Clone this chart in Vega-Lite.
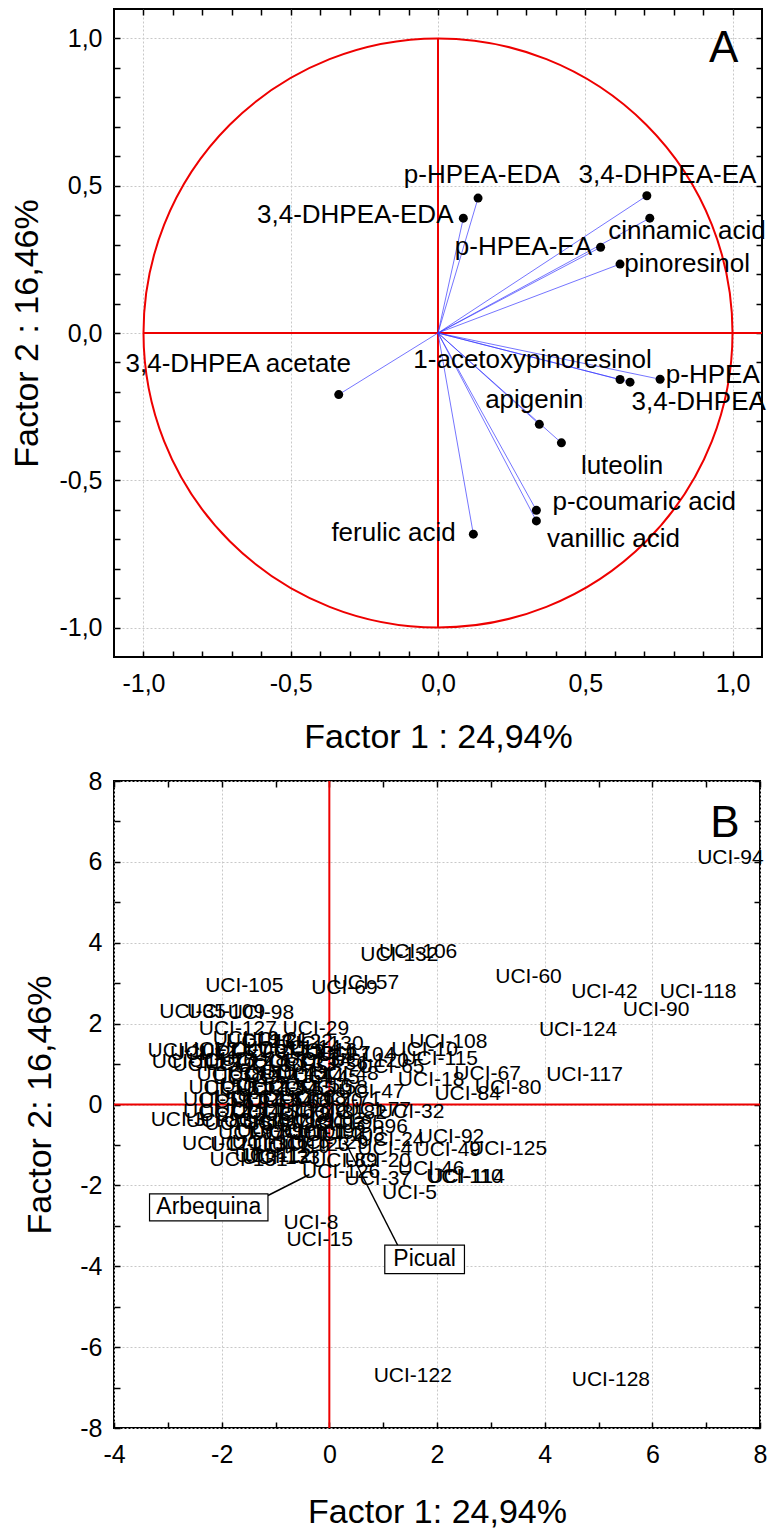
{
  "$schema": "https://vega.github.io/schema/vega-lite/v6.json",
  "padding": {"left": 9, "top": 7, "right": 0, "bottom": 0},
  "spacing": 13,
  "config": {
    "font": "Liberation Sans",
    "locale": {"number": {"decimal": ",", "thousands": ".", "grouping": [3], "currency": ["", ""], "minus": "-"}},
    "view": {"stroke": "black", "strokeWidth": 2},
    "axis": {"labelFont": "Liberation Sans", "labelFontSize": 25, "labelColor": "black", "titleFont": "Liberation Sans", "titleFontSize": 34, "titleFontWeight": "normal", "titleColor": "black", "domain": false, "tickColor": "black", "tickWidth": 1.5, "gridColor": "#c8c8c8", "gridDash": [2, 2], "gridWidth": 1, "labelFlush": false, "labelOverlap": false},
    "text": {"font": "Liberation Sans", "color": "black"}
  },
  "datasets": {
    "loadings": [
      {"name": "p-HPEA-EDA", "x": 0.136, "y": 0.458, "lx": 0.149, "ly": 0.537},
      {"name": "3,4-DHPEA-EA", "x": 0.709, "y": 0.466, "lx": 0.779, "ly": 0.537},
      {"name": "3,4-DHPEA-EDA", "x": 0.086, "y": 0.39, "lx": -0.281, "ly": 0.399},
      {"name": "p-HPEA-EA", "x": 0.552, "y": 0.291, "lx": 0.29, "ly": 0.291},
      {"name": "cinnamic acid", "x": 0.719, "y": 0.39, "lx": 0.845, "ly": 0.345},
      {"name": "pinoresinol", "x": 0.618, "y": 0.234, "lx": 0.846, "ly": 0.234},
      {"name": "3,4-DHPEA acetate", "x": -0.337, "y": -0.209, "lx": -0.678, "ly": -0.105},
      {"name": "1-acetoxypinoresinol", "x": 0.618, "y": -0.158, "lx": 0.321, "ly": -0.09},
      {"name": "3,4-DHPEA", "x": 0.652, "y": -0.167, "lx": 0.885, "ly": -0.233},
      {"name": "p-HPEA", "x": 0.754, "y": -0.157, "lx": 0.933, "ly": -0.141},
      {"name": "apigenin", "x": 0.344, "y": -0.31, "lx": 0.327, "ly": -0.227},
      {"name": "luteolin", "x": 0.419, "y": -0.373, "lx": 0.625, "ly": -0.453},
      {"name": "p-coumaric acid", "x": 0.334, "y": -0.602, "lx": 0.7, "ly": -0.575},
      {"name": "vanillic acid", "x": 0.334, "y": -0.638, "lx": 0.596, "ly": -0.699},
      {"name": "ferulic acid", "x": 0.12, "y": -0.683, "lx": -0.151, "ly": -0.68}
    ],
    "axesA": [{"x": -1, "x2": 1.1, "y": 0, "y2": 0}, {"x": 0, "x2": 0, "y": -1, "y2": 1}],
    "axesB": [{"x": 0, "x2": 0, "y": -8, "y2": 8}, {"x": -4, "x2": 8, "y": 0, "y2": 0}],
    "origin": [{"x": 0, "y": 0}],
    "panelA": [{"t": "A", "x": 0.97, "y": 0.963}],
    "panelB": [{"t": "B", "x": 7.35, "y": 6.94}],
    "scores": [
      {"id": "UCI-94", "x": 7.45, "y": 6.1},
      {"id": "UCI-132", "x": 1.3, "y": 3.7},
      {"id": "UCI-106", "x": 1.65, "y": 3.78},
      {"id": "UCI-60", "x": 3.7, "y": 3.15},
      {"id": "UCI-42", "x": 5.11, "y": 2.78},
      {"id": "UCI-118", "x": 6.85, "y": 2.78},
      {"id": "UCI-90", "x": 6.07, "y": 2.33},
      {"id": "UCI-124", "x": 4.62, "y": 1.83},
      {"id": "UCI-117", "x": 4.74, "y": 0.72},
      {"id": "UCI-105", "x": -1.58, "y": 2.92},
      {"id": "UCI-69", "x": 0.28, "y": 2.89},
      {"id": "UCI-57", "x": 0.68, "y": 3.0},
      {"id": "UCI-35", "x": -2.54, "y": 2.29},
      {"id": "UCI-109", "x": -1.92, "y": 2.29},
      {"id": "UCI-98", "x": -1.27, "y": 2.26},
      {"id": "UCI-127", "x": -1.7, "y": 1.87},
      {"id": "UCI-29", "x": -0.25, "y": 1.87},
      {"id": "UCI-130", "x": -0.09, "y": 1.49},
      {"id": "UCI-104", "x": 0.5, "y": 1.22},
      {"id": "UCI-10", "x": 1.77, "y": 1.34},
      {"id": "UCI-108", "x": 2.21, "y": 1.55},
      {"id": "UCI-115", "x": 2.05, "y": 1.13},
      {"id": "UCI-65", "x": 1.15, "y": 0.93},
      {"id": "UCI-18", "x": 1.89, "y": 0.6},
      {"id": "UCI-67", "x": 2.94, "y": 0.76},
      {"id": "UCI-80", "x": 3.32, "y": 0.42},
      {"id": "UCI-84", "x": 2.57, "y": 0.27},
      {"id": "UCI-47", "x": 0.78, "y": 0.31},
      {"id": "UCI-32", "x": 1.52, "y": -0.19},
      {"id": "UCI-77", "x": 0.9, "y": -0.14},
      {"id": "UCI-3", "x": -2.81, "y": -0.39},
      {"id": "UCI-96", "x": 0.84, "y": -0.56},
      {"id": "UCI-125", "x": 3.32, "y": -1.09},
      {"id": "UCI-92", "x": 2.26, "y": -0.8},
      {"id": "UCI-49", "x": 2.2, "y": -1.13},
      {"id": "UCI-4", "x": 1.03, "y": -1.09},
      {"id": "UCI-24", "x": 1.15, "y": -0.87},
      {"id": "UCI-110", "x": 2.51, "y": -1.79},
      {"id": "UCI-114", "x": 2.55, "y": -1.79},
      {"id": "UCI-46", "x": 1.89, "y": -1.59},
      {"id": "UCI-5", "x": 1.49, "y": -2.19},
      {"id": "UCI-37", "x": 0.9, "y": -1.83},
      {"id": "UCI-89", "x": 0.28, "y": -1.4},
      {"id": "UCI-20", "x": 0.9, "y": -1.4},
      {"id": "UCI-126", "x": 0.22, "y": -1.67},
      {"id": "UCI-12", "x": -0.96, "y": -1.3},
      {"id": "UCI-112", "x": -1.05, "y": -1.28},
      {"id": "UCI-121", "x": -2.01, "y": -0.97},
      {"id": "UCI-8", "x": -0.34, "y": -2.93},
      {"id": "UCI-15", "x": -0.18, "y": -3.36},
      {"id": "UCI-122", "x": 1.55, "y": -6.72},
      {"id": "UCI-128", "x": 5.23, "y": -6.82},
      {"id": "UCI-107", "x": -2.65, "y": 1.32},
      {"id": "UCI-1", "x": -2.45, "y": 1.25},
      {"id": "UCI-2", "x": -2.2, "y": 1.35},
      {"id": "UCI-6", "x": -1.9, "y": 1.28},
      {"id": "UCI-7", "x": -1.6, "y": 1.36},
      {"id": "UCI-9", "x": -1.3, "y": 1.3},
      {"id": "UCI-11", "x": -1.0, "y": 1.38},
      {"id": "UCI-13", "x": -0.7, "y": 1.3},
      {"id": "UCI-14", "x": -0.4, "y": 1.4},
      {"id": "UCI-16", "x": -0.1, "y": 1.32},
      {"id": "UCI-17", "x": 0.15, "y": 1.25},
      {"id": "UCI-19", "x": -1.55, "y": 1.62},
      {"id": "UCI-21", "x": -1.0, "y": 1.6},
      {"id": "UCI-22", "x": -0.55, "y": 1.55},
      {"id": "UCI-23", "x": -1.3, "y": 1.55},
      {"id": "UCI-111", "x": -2.6, "y": 1.05},
      {"id": "UCI-25", "x": -2.3, "y": 0.98},
      {"id": "UCI-26", "x": -2.0, "y": 1.08},
      {"id": "UCI-27", "x": -1.7, "y": 1.0},
      {"id": "UCI-28", "x": -1.4, "y": 1.1},
      {"id": "UCI-30", "x": -1.1, "y": 0.95},
      {"id": "UCI-31", "x": -0.8, "y": 1.05},
      {"id": "UCI-33", "x": -0.5, "y": 0.98},
      {"id": "UCI-34", "x": -0.2, "y": 1.1},
      {"id": "UCI-36", "x": 0.1, "y": 1.0},
      {"id": "UCI-120", "x": 0.75, "y": 1.08},
      {"id": "UCI-38", "x": -1.85, "y": 0.72},
      {"id": "UCI-39", "x": -1.55, "y": 0.65},
      {"id": "UCI-40", "x": -1.25, "y": 0.75},
      {"id": "UCI-41", "x": -0.95, "y": 0.68},
      {"id": "UCI-43", "x": -0.65, "y": 0.78},
      {"id": "UCI-44", "x": -0.35, "y": 0.7},
      {"id": "UCI-45", "x": -0.05, "y": 0.65},
      {"id": "UCI-48", "x": 0.3, "y": 0.75},
      {"id": "UCI-50", "x": -2.0, "y": 0.42},
      {"id": "UCI-51", "x": -1.7, "y": 0.38},
      {"id": "UCI-52", "x": -1.4, "y": 0.45},
      {"id": "UCI-53", "x": -1.1, "y": 0.35},
      {"id": "UCI-54", "x": -0.8, "y": 0.42},
      {"id": "UCI-55", "x": -0.5, "y": 0.38},
      {"id": "UCI-56", "x": -0.2, "y": 0.45},
      {"id": "UCI-58", "x": 0.1, "y": 0.4},
      {"id": "UCI-59", "x": -2.1, "y": 0.12},
      {"id": "UCI-61", "x": -1.8, "y": 0.05},
      {"id": "UCI-62", "x": -1.5, "y": 0.15},
      {"id": "UCI-63", "x": -1.2, "y": 0.08},
      {"id": "UCI-64", "x": -0.9, "y": 0.12},
      {"id": "UCI-66", "x": -0.6, "y": 0.05},
      {"id": "UCI-68", "x": -0.3, "y": 0.15},
      {"id": "UCI-70", "x": 0.0, "y": 0.08},
      {"id": "UCI-71", "x": 0.35, "y": 0.1},
      {"id": "UCI-72", "x": -2.1, "y": -0.18},
      {"id": "UCI-73", "x": -1.8, "y": -0.25},
      {"id": "UCI-74", "x": -1.5, "y": -0.15},
      {"id": "UCI-75", "x": -1.2, "y": -0.22},
      {"id": "UCI-76", "x": -0.9, "y": -0.18},
      {"id": "UCI-78", "x": -0.6, "y": -0.25},
      {"id": "UCI-79", "x": -0.3, "y": -0.15},
      {"id": "UCI-81", "x": 0.05, "y": -0.2},
      {"id": "UCI-82", "x": 0.45, "y": -0.22},
      {"id": "UCI-83", "x": -2.05, "y": -0.42},
      {"id": "UCI-85", "x": -1.7, "y": -0.48},
      {"id": "UCI-86", "x": -1.35, "y": -0.4},
      {"id": "UCI-87", "x": -1.0, "y": -0.45},
      {"id": "UCI-88", "x": -0.65, "y": -0.5},
      {"id": "UCI-91", "x": -0.3, "y": -0.42},
      {"id": "UCI-93", "x": 0.05, "y": -0.48},
      {"id": "UCI-95", "x": 0.4, "y": -0.45},
      {"id": "UCI-97", "x": -1.45, "y": -0.7},
      {"id": "UCI-99", "x": -1.1, "y": -0.65},
      {"id": "UCI-100", "x": -0.75, "y": -0.72},
      {"id": "UCI-101", "x": -0.4, "y": -0.68},
      {"id": "UCI-102", "x": -0.05, "y": -0.7},
      {"id": "UCI-103", "x": 0.3, "y": -0.75},
      {"id": "UCI-113", "x": -1.5, "y": -1.0},
      {"id": "UCI-116", "x": -1.1, "y": -0.95},
      {"id": "UCI-119", "x": -0.7, "y": -1.05},
      {"id": "UCI-123", "x": -0.35, "y": -1.0},
      {"id": "UCI-129", "x": 0.0, "y": -0.95},
      {"id": "UCI-131", "x": -1.5, "y": -1.37},
      {"id": "UCI-133", "x": -0.9, "y": -1.32}
    ],
    "cultivars": [
      {"name": "Arbequina", "x1": -3.34, "x2": -1.14, "y1": -2.21, "y2": -2.88, "lx": -2.24, "ly": -2.545, "px1": -1.14, "py1": -2.25, "px2": -0.37, "py2": -1.73},
      {"name": "Picual", "x1": 1.03, "x2": 2.51, "y1": -3.48, "y2": -4.18, "lx": 1.77, "ly": -3.83, "px1": 1.27, "py1": -3.48, "px2": 0.28, "py2": -0.89}
    ]
  },
  "vconcat": [
    {
      "width": 648,
      "height": 648,
      "resolve": {"axis": {"x": "independent", "y": "independent"}},
      "layer": [
        {
          "data": {"name": "axesA"},
          "mark": {"type": "rule", "color": "#ee0000", "strokeWidth": 2},
          "encoding": {
            "x": {"field": "x", "type": "quantitative", "scale": {"domain": [-1.1, 1.1], "nice": false, "zero": false},
              "axis": {"orient": "bottom", "values": [-1, -0.9, -0.8, -0.7, -0.6, -0.5, -0.4, -0.3, -0.2, -0.1, 0, 0.1, 0.2, 0.3, 0.4, 0.5, 0.6, 0.7, 0.8, 0.9, 1], "format": ".1f",
                "labelExpr": "abs(datum.value*2 - round(datum.value*2)) < 0.001 ? datum.label : ''",
                "tickSize": -6,
                "grid": true,
                "gridOpacity": {"condition": {"test": "abs(datum.value*2 - round(datum.value*2)) < 0.001", "value": 1}, "value": 0},
                "labelPadding": 20, "title": "Factor 1 : 24,94%", "titlePadding": 24}},
            "x2": {"field": "x2"},
            "y": {"field": "y", "type": "quantitative", "scale": {"domain": [-1.1, 1.1], "nice": false, "zero": false},
              "axis": {"orient": "left", "values": [-1, -0.9, -0.8, -0.7, -0.6, -0.5, -0.4, -0.3, -0.2, -0.1, 0, 0.1, 0.2, 0.3, 0.4, 0.5, 0.6, 0.7, 0.8, 0.9, 1], "format": ".1f",
                "labelExpr": "abs(datum.value*2 - round(datum.value*2)) < 0.001 ? datum.label : ''",
                "tickSize": -6,
                "grid": true,
                "gridOpacity": {"condition": {"test": "abs(datum.value*2 - round(datum.value*2)) < 0.001", "value": 1}, "value": 0},
                "labelPadding": 18, "title": "Factor 2 : 16,46%", "titlePadding": 14}},
            "y2": {"field": "y2"}
          }
        },
        {
          "data": {"name": "origin"},
          "mark": {"type": "point", "shape": "circle", "size": 346921, "filled": false, "stroke": "#ee0000", "strokeWidth": 2, "opacity": 1},
          "encoding": {
            "x": {"field": "x", "type": "quantitative", "scale": {"domain": [-1.1, 1.1], "nice": false, "zero": false},
              "axis": {"orient": "top", "values": [-1, -0.9, -0.8, -0.7, -0.6, -0.5, -0.4, -0.3, -0.2, -0.1, 0, 0.1, 0.2, 0.3, 0.4, 0.5, 0.6, 0.7, 0.8, 0.9, 1],
                "labels": false, "grid": false, "title": null, "tickSize": -6}},
            "y": {"field": "y", "type": "quantitative", "scale": {"domain": [-1.1, 1.1], "nice": false, "zero": false},
              "axis": {"orient": "right", "values": [-1, -0.9, -0.8, -0.7, -0.6, -0.5, -0.4, -0.3, -0.2, -0.1, 0, 0.1, 0.2, 0.3, 0.4, 0.5, 0.6, 0.7, 0.8, 0.9, 1],
                "labels": false, "grid": false, "title": null, "tickSize": -6}}
          }
        },
        {
          "data": {"name": "loadings"},
          "mark": {"type": "rule", "color": "#3a3aff", "strokeWidth": 0.7},
          "encoding": {
            "x": {"field": "x", "type": "quantitative", "axis": null},
            "y": {"field": "y", "type": "quantitative", "axis": null},
            "x2": {"datum": 0},
            "y2": {"datum": 0}
          }
        },
        {
          "data": {"name": "loadings"},
          "mark": {"type": "point", "shape": "circle", "size": 81, "filled": true, "color": "black", "opacity": 1},
          "encoding": {
            "x": {"field": "x", "type": "quantitative", "axis": null},
            "y": {"field": "y", "type": "quantitative", "axis": null}
          }
        },
        {
          "data": {"name": "loadings"},
          "mark": {"type": "text", "fontSize": 26, "align": "center", "baseline": "middle"},
          "encoding": {
            "x": {"field": "lx", "type": "quantitative", "axis": null},
            "y": {"field": "ly", "type": "quantitative", "axis": null},
            "text": {"field": "name"}
          }
        },
        {
          "data": {"name": "panelA"},
          "mark": {"type": "text", "fontSize": 44, "align": "center", "baseline": "middle"},
          "encoding": {
            "x": {"field": "x", "type": "quantitative", "axis": null},
            "y": {"field": "y", "type": "quantitative", "axis": null},
            "text": {"field": "t"}
          }
        }
      ]
    },
    {
      "width": 646,
      "height": 647,
      "resolve": {"axis": {"x": "independent", "y": "independent"}},
      "layer": [
        {
          "data": {"name": "axesB"},
          "mark": {"type": "rule", "color": "#ee0000", "strokeWidth": 2},
          "encoding": {
            "x": {"field": "x", "type": "quantitative", "scale": {"domain": [-4, 8], "nice": false, "zero": false},
              "axis": {"orient": "bottom", "values": [-4, -3, -2, -1, 0, 1, 2, 3, 4, 5, 6, 7, 8], "format": "d",
                "labelExpr": "datum.value % 2 === 0 ? datum.label : ''",
                "tickSize": -6,
                "grid": true,
                "gridOpacity": {"condition": {"test": "datum.value % 2 === 0", "value": 1}, "value": 0},
                "labelPadding": 20, "title": "Factor 1: 24,94%", "titlePadding": 28}},
            "x2": {"field": "x2"},
            "y": {"field": "y", "type": "quantitative", "scale": {"domain": [-8, 8], "nice": false, "zero": false},
              "axis": {"orient": "left", "values": [-8, -7, -6, -5, -4, -3, -2, -1, 0, 1, 2, 3, 4, 5, 6, 7, 8], "format": "d",
                "labelExpr": "datum.value % 2 === 0 ? datum.label : ''",
                "tickSize": -6,
                "grid": true,
                "gridOpacity": {"condition": {"test": "datum.value % 2 === 0", "value": 1}, "value": 0},
                "labelPadding": 18, "title": "Factor 2: 16,46%", "titlePadding": 22}},
            "y2": {"field": "y2"}
          }
        },
        {
          "data": {"name": "scores"},
          "mark": {"type": "text", "fontSize": 21, "align": "center", "baseline": "middle"},
          "encoding": {
            "x": {"field": "x", "type": "quantitative", "scale": {"domain": [-4, 8], "nice": false, "zero": false},
              "axis": {"orient": "top", "values": [-4, -3, -2, -1, 0, 1, 2, 3, 4, 5, 6, 7, 8],
                "labels": false, "grid": false, "title": null, "tickSize": -6}},
            "y": {"field": "y", "type": "quantitative", "scale": {"domain": [-8, 8], "nice": false, "zero": false},
              "axis": {"orient": "right", "values": [-8, -7, -6, -5, -4, -3, -2, -1, 0, 1, 2, 3, 4, 5, 6, 7, 8],
                "labels": false, "grid": false, "title": null, "tickSize": -6}},
            "text": {"field": "id"}
          }
        },
        {
          "data": {"name": "cultivars"},
          "mark": {"type": "rule", "color": "black", "strokeWidth": 1.5},
          "encoding": {
            "x": {"field": "px1", "type": "quantitative", "axis": null},
            "y": {"field": "py1", "type": "quantitative", "axis": null},
            "x2": {"field": "px2"},
            "y2": {"field": "py2"}
          }
        },
        {
          "data": {"name": "cultivars"},
          "mark": {"type": "rect", "fill": "white", "stroke": "black", "strokeWidth": 1.2},
          "encoding": {
            "x": {"field": "x1", "type": "quantitative", "axis": null},
            "y": {"field": "y1", "type": "quantitative", "axis": null},
            "x2": {"field": "x2"},
            "y2": {"field": "y2"}
          }
        },
        {
          "data": {"name": "cultivars"},
          "mark": {"type": "text", "fontSize": 23, "align": "center", "baseline": "middle"},
          "encoding": {
            "x": {"field": "lx", "type": "quantitative", "axis": null},
            "y": {"field": "ly", "type": "quantitative", "axis": null},
            "text": {"field": "name"}
          }
        },
        {
          "data": {"name": "panelB"},
          "mark": {"type": "text", "fontSize": 44, "align": "center", "baseline": "middle"},
          "encoding": {
            "x": {"field": "x", "type": "quantitative", "axis": null},
            "y": {"field": "y", "type": "quantitative", "axis": null},
            "text": {"field": "t"}
          }
        }
      ]
    }
  ]
}
